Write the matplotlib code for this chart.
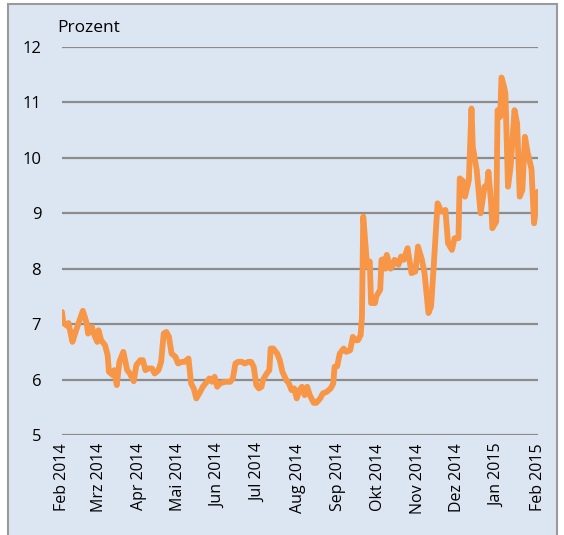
import pandas as pd
import matplotlib
matplotlib.use("Agg")
import matplotlib.pyplot as plt
from matplotlib.patches import Rectangle

# Tage seit dem 1. Feb 2014 und Rendite in Prozent
tage = [0, 1, 4, 5, 8, 10, 13, 16, 19, 20, 23, 24, 27, 28, 30, 33, 35, 36, 39, 40,
        42, 44, 47, 50, 52, 55, 57, 60, 62, 64, 66, 69, 71, 74, 76, 78, 80, 82, 84, 87,
        89, 92, 94, 97, 99, 101, 103, 106, 108, 111, 113, 115, 117, 119, 121, 125, 129, 131, 133, 135,
        138, 140, 143, 145, 147, 149, 151, 153, 154, 157, 159, 160, 162, 165, 167, 169, 172, 174, 176, 178,
        180, 182, 184, 186, 188, 190, 193, 195, 198, 200, 203, 206, 208, 209, 211, 213, 216, 218, 221, 223,
        225, 227, 229, 230, 231, 233, 234, 236, 237, 240, 241, 244, 245, 246, 248, 249, 252, 254, 255, 257,
        258, 260, 262, 265, 268, 271, 273, 276, 278, 281, 283, 285, 288, 291, 294, 296, 299, 301, 304, 305,
        308, 309, 312, 314, 315, 318, 321, 324, 326, 327, 329, 330, 333, 334, 336, 337, 339, 340, 342, 344,
        347, 349, 351, 353, 355, 357, 360, 362, 365]
prozent = [7.22, 7.02, 6.97, 7.02, 6.68, 6.83, 7.04, 7.24, 7.01, 6.83, 6.95, 6.85, 6.68, 6.89, 6.71, 6.62, 6.44, 6.14, 6.08, 6.17,
           5.90, 6.32, 6.50, 6.17, 6.11, 5.97, 6.26, 6.35, 6.35, 6.17, 6.20, 6.20, 6.11, 6.17, 6.32, 6.83, 6.86, 6.77, 6.47, 6.41,
           6.29, 6.32, 6.32, 6.38, 5.93, 5.84, 5.66, 5.78, 5.87, 5.96, 6.02, 5.96, 6.05, 5.87, 5.93, 5.96, 5.96, 6.02, 6.29, 6.32,
           6.32, 6.29, 6.32, 6.32, 6.23, 5.90, 5.84, 5.87, 5.99, 6.11, 6.17, 6.56, 6.56, 6.47, 6.35, 6.14, 5.99, 5.93, 5.81, 5.84,
           5.66, 5.81, 5.87, 5.72, 5.87, 5.72, 5.58, 5.58, 5.66, 5.75, 5.78, 5.84, 5.93, 6.23, 6.24, 6.47, 6.56, 6.50, 6.53, 6.77,
           6.71, 6.71, 6.80, 7.13, 8.94, 8.34, 8.04, 8.13, 7.38, 7.38, 7.50, 7.62, 8.16, 8.17, 8.00, 8.25, 8.00, 8.07, 8.16, 8.13,
           8.07, 8.22, 8.16, 8.37, 7.92, 7.95, 8.40, 8.16, 7.92, 7.20, 7.32, 8.04, 9.18, 9.03, 9.06, 8.46, 8.34, 8.55, 8.55, 9.63,
           9.57, 9.30, 9.60, 10.89, 10.20, 9.78, 9.00, 9.48, 9.51, 9.75, 9.20, 8.73, 8.85, 10.86, 10.74, 11.45, 11.28, 11.16, 9.48, 9.84,
           10.86, 10.62, 9.30, 9.42, 10.38, 10.10, 9.80, 8.82, 9.39]

monate = ["Feb 2014", "Mrz 2014", "Apr 2014", "Mai 2014", "Jun 2014", "Jul 2014", "Aug 2014",
          "Sep 2014", "Okt 2014", "Nov 2014", "Dez 2014", "Jan 2015", "Feb 2015"]
y_ticks = [5, 6, 7, 8, 9, 10, 11, 12]

plt.rcParams['font.family'] = ['Open Sans', 'DejaVu Sans']

start = pd.Timestamp("2014-02-01")
datum = start + pd.to_timedelta(tage, unit="D")
monats_ticks = pd.date_range("2014-02-01", periods=len(monate), freq="MS")

fig = plt.figure(figsize=(5.64, 5.35), dpi=100)
fig.patch.set_facecolor("white")
# grauer Rahmen mit hellblauem Hintergrund
rahmen = Rectangle((8 / 564, -0.02), 549 / 564, 1 - 4 / 535 + 0.02,
                   transform=fig.transFigure, facecolor="#dce6f2",
                   edgecolor="#9a9a9a", linewidth=1.5, zorder=-10)
fig.add_artist(rahmen)

ax = fig.add_axes([62 / 564, 100 / 535, 476 / 564, 388 / 535])
ax.set_facecolor("none")
ax.plot(datum, prozent, color="#f79646", linewidth=4.2, solid_joinstyle="round",
        solid_capstyle="round", zorder=3)

ax.set_xlim(monats_ticks[0], monats_ticks[-1])
ax.set_ylim(5, 12)
ax.set_yticks(y_ticks)
ax.set_yticklabels([str(v) for v in y_ticks], fontsize=12)
ax.set_xticks(monats_ticks)
ax.set_xticklabels(monate, rotation=90, fontsize=11.5)
ax.tick_params(axis="y", length=0, pad=15)
ax.tick_params(axis="x", length=0, pad=6)
ax.grid(axis="y", color="#8c8c8c", linewidth=1.6, zorder=1)
ax.grid(axis="x", visible=False)
ax.set_axisbelow(True)
for s in ax.spines.values():
    s.set_visible(False)

fig.text(57 / 564, 1 - 28 / 535, "Prozent", fontsize=12.5, va="center", ha="left")

fig.savefig("out.png", dpi=100)
